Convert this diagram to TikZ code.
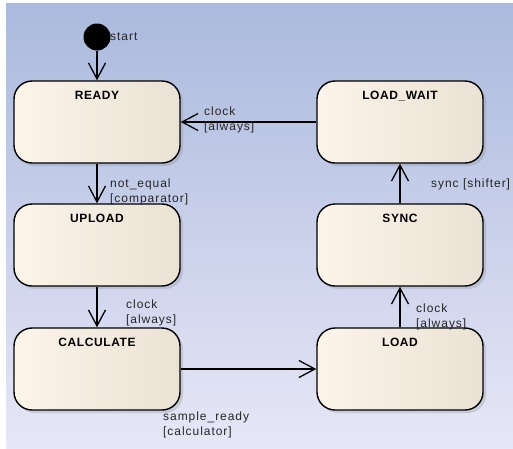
\documentclass[tikz,border=0pt]{standalone}
\usepackage{fontspec}
\setmainfont{Liberation Sans}
\newfontfamily\lblfont[LetterSpace=8]{Liberation Sans}
\newfontfamily\namefont[LetterSpace=5]{Liberation Sans}
\usepackage{xcolor}
\usetikzlibrary{arrows.meta, positioning, shadows}
\definecolor{bgtop}{RGB}{170,185,221}
\definecolor{bgbot}{RGB}{231,231,247}
\definecolor{statel}{RGB}{253,244,234}
\definecolor{stater}{RGB}{234,226,212}

\begin{document}
\begin{tikzpicture} [x = 1pt, y = -1pt,
          statebox/.style = {draw, line width = 1.4pt, rounded corners = 18pt,
              left color = statel, middle color = statel, right color = stater,
              drop shadow = {shadow xshift = 3pt, shadow yshift = -3pt, opacity = 0.25},
              minimum width = 166pt, inner ysep = 0pt,
              text height = 18pt, text depth = 64pt,
              font = \namefont\bfseries\fontsize{12}{14}\selectfont
          },
          trans/.style = {line width = 1.3pt,
              -{Straight Barb[length = 16pt, width = 17pt, line width = 1.3pt]}
          },
          lbl/.style = {font = \lblfont\fontsize{12}{14.5}\selectfont,
              text = black!85, align = left, inner sep = 0pt
          }
          ]

          \useasboundingbox (0,0) rectangle (513,448);
          \shade [top color = bgtop, bottom color = bgbot] (6,3) rectangle (513,448);

          \node (start) [circle, fill = black, minimum size = 27pt, inner sep = 0pt] at (97,37) {};
          \node (startlbl) [lbl, anchor = west] at (110,37) {start};

          \node (ready) [statebox] at (97,122) {READY};
          \node (upload) [statebox] at (97,245) {UPLOAD};
          \node (calc) [statebox] at (97,369) {CALCULATE};
          \node (loadwait) [statebox] at (400,122) {LOAD\_WAIT};
          \node (sync) [statebox] at (400,245) {SYNC};
          \node (load) [statebox] at (400,369) {LOAD};

          % Links
          \draw [trans] (start) -- (ready);
          \draw [trans] (loadwait) -- (ready);
          \draw [trans] (ready) -- (upload);
          \draw [trans] (upload) -- (calc);
          \draw [trans] (calc) -- (load);
          \draw [trans] (load) -- (sync);
          \draw [trans] (sync) -- (loadwait);

          % Guards
          \node (g1) [lbl, anchor = north west] at (204,107) {clock\\{}[always]};
          \node (g2) [lbl, anchor = north west] at (110,179) {not\_equal\\{}[comparator]};
          \node (g3) [lbl, anchor = north west] at (126,300) {clock\\{}[always]};
          \node (g4) [lbl, anchor = north west] at (163,412) {sample\_ready\\{}[calculator]};
          \node (g5) [lbl, anchor = north west] at (431,179) {sync [shifter]};
          \node (g6) [lbl, anchor = north west] at (416,304) {clock\\{}[always]};

        \end{tikzpicture}
\end{document}
